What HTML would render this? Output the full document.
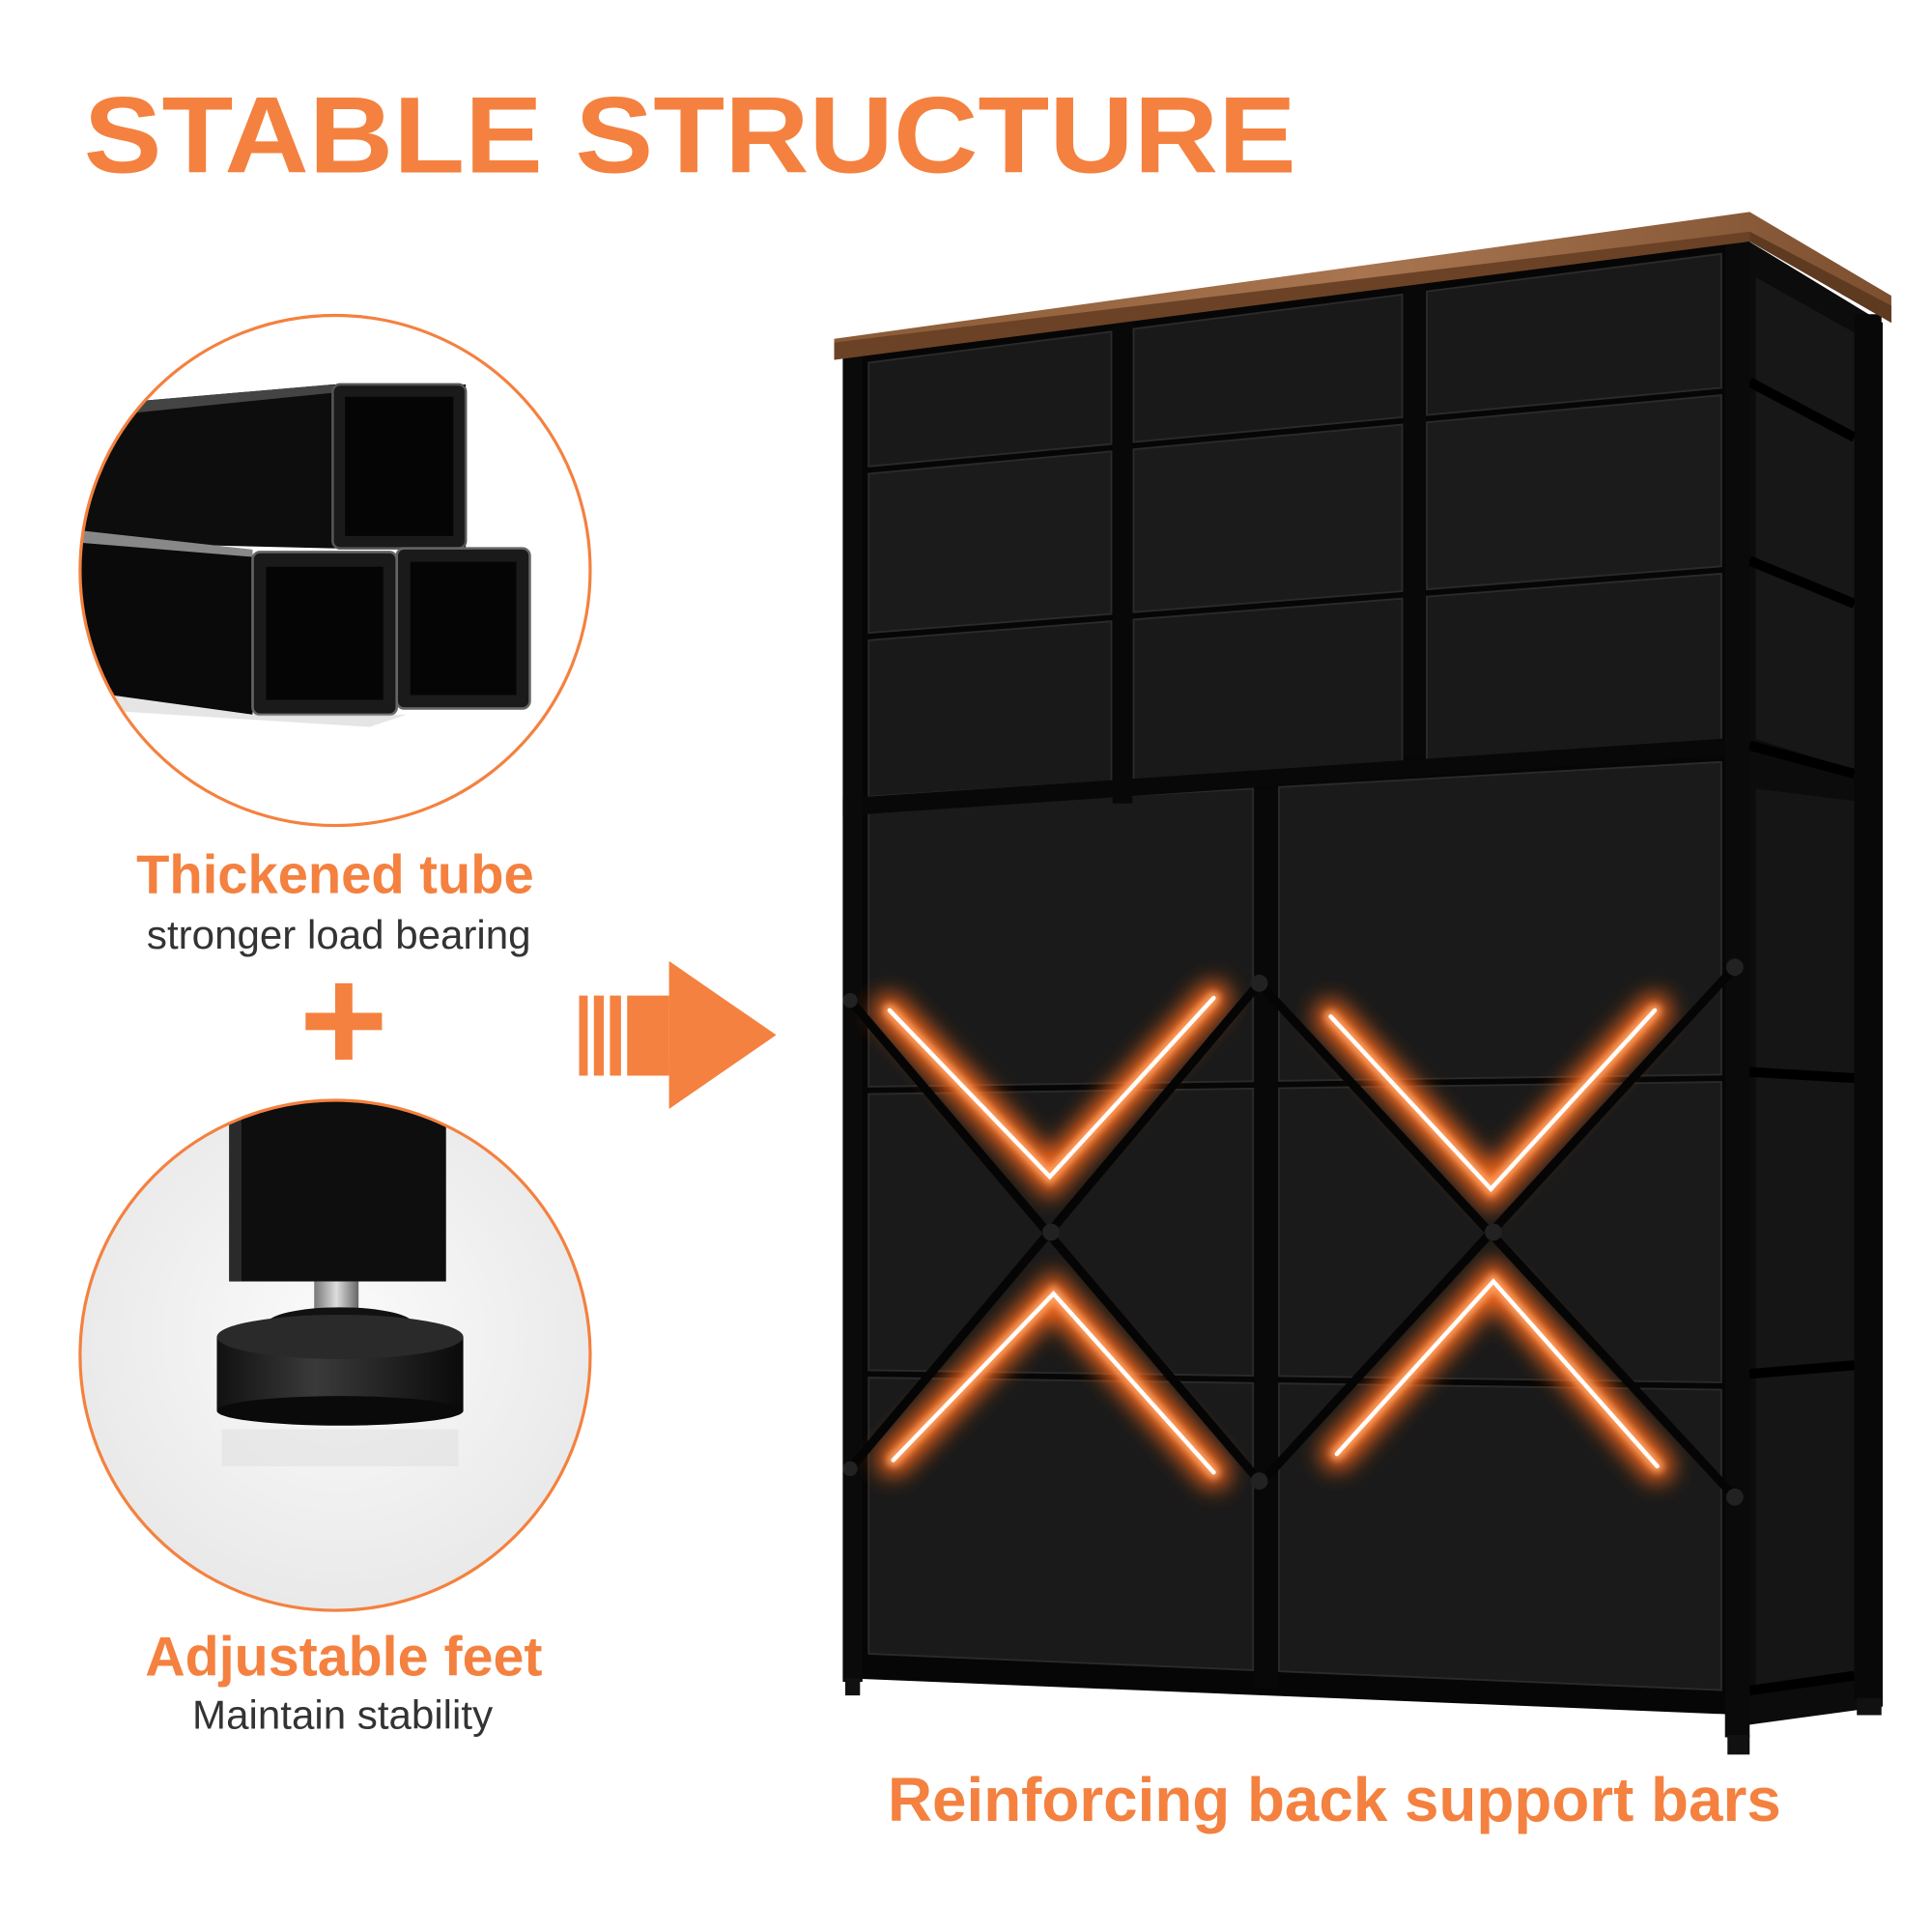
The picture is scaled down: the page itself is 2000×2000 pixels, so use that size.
<!DOCTYPE html>
<html><head><meta charset="utf-8">
<style>
html,body{margin:0;padding:0;background:#fff;}
svg{display:block;}
</style></head>
<body>
<svg id="s" width="2000" height="2000" viewBox="0 0 1568 1568" xmlns="http://www.w3.org/2000/svg" font-family="Liberation Sans, sans-serif">
<defs>
  <clipPath id="c1"><circle cx="272" cy="463" r="206"/></clipPath>
  <clipPath id="c2"><circle cx="272" cy="1100" r="206"/></clipPath>
  <radialGradient id="g2" cx="0.5" cy="0.45" r="0.6">
    <stop offset="0" stop-color="#fbfbfb"/><stop offset="1" stop-color="#e6e6e6"/>
  </radialGradient>
  <linearGradient id="wood" x1="0" x2="1">
    <stop offset="0" stop-color="#8a5a36"/><stop offset="0.5" stop-color="#a87550"/><stop offset="1" stop-color="#7d5030"/>
  </linearGradient>
  <linearGradient id="knob" x1="0" x2="1">
    <stop offset="0" stop-color="#111"/><stop offset="0.4" stop-color="#3a3a3a"/><stop offset="1" stop-color="#0a0a0a"/>
  </linearGradient>
  <linearGradient id="rod" x1="0" x2="1">
    <stop offset="0" stop-color="#777"/><stop offset="0.5" stop-color="#ddd"/><stop offset="1" stop-color="#666"/>
  </linearGradient>
  <filter id="blur" x="-20%" y="-20%" width="140%" height="140%"><feGaussianBlur stdDeviation="9"/></filter>
  <filter id="blur2" x="-20%" y="-20%" width="140%" height="140%"><feGaussianBlur stdDeviation="3"/></filter>
</defs>

<text x="68" y="140" font-size="88" font-weight="bold" fill="#F4813F" textLength="984" lengthAdjust="spacingAndGlyphs">STABLE STRUCTURE</text>

<!-- circle 1 -->
<g clip-path="url(#c1)">
  <rect x="60" y="250" width="430" height="430" fill="#fff"/>
  <polygon points="60,330 270,312 378,312 378,445 270,445 60,440" fill="#0d0d0d"/>
  <polygon points="60,330 270,312 278,318 60,340" fill="#444"/>
  <rect x="270" y="312" width="108" height="133" rx="6" fill="#1a1a1a" stroke="#555" stroke-width="2"/>
  <rect x="280" y="322" width="88" height="113" fill="#050505"/>
  <polygon points="60,440 205,448 205,580 60,560" fill="#0a0a0a"/>
  <polygon points="60,430 205,446 205,452 60,440" fill="#888"/>
  <rect x="205" y="448" width="117" height="132" rx="6" fill="#1a1a1a" stroke="#666" stroke-width="2"/>
  <rect x="216" y="460" width="95" height="108" fill="#050505"/>
  <rect x="322" y="445" width="108" height="130" rx="6" fill="#1a1a1a" stroke="#666" stroke-width="2"/>
  <rect x="333" y="456" width="86" height="108" fill="#050505"/>
  <polygon points="60,560 205,580 330,580 300,590 60,575" fill="#ccc" opacity="0.5"/>
</g>
<circle cx="272" cy="463" r="207" fill="none" stroke="#F4813F" stroke-width="2.5"/>

<text x="272" y="725" font-size="44" font-weight="bold" fill="#F4813F" text-anchor="middle">Thickened tube</text>
<text x="275" y="770" font-size="33" fill="#333" text-anchor="middle">stronger load bearing</text>
<rect x="248" y="822" width="62" height="14" fill="#F4813F"/>
<rect x="272" y="798" width="14" height="62" fill="#F4813F"/>

<!-- circle 2 -->
<g clip-path="url(#c2)">
  <rect x="60" y="890" width="430" height="430" fill="url(#g2)"/>
  <rect x="186" y="893" width="176" height="147" fill="#0e0e0e"/>
  <rect x="186" y="893" width="10" height="147" fill="#2a2a2a"/>
  <rect x="255" y="1040" width="36" height="28" fill="url(#rod)"/>
  <ellipse cx="276" cy="1075" rx="60" ry="14" fill="#111"/>
  <rect x="176" y="1085" width="200" height="60" fill="url(#knob)"/>
  <ellipse cx="276" cy="1085" rx="100" ry="18" fill="#2a2a2a"/>
  <ellipse cx="276" cy="1145" rx="100" ry="12" fill="#0a0a0a"/>
  <rect x="180" y="1160" width="192" height="30" fill="#ddd" opacity="0.5"/>
</g>
<circle cx="272" cy="1100" r="207" fill="none" stroke="#F4813F" stroke-width="2.5"/>

<text x="279" y="1360" font-size="45" font-weight="bold" fill="#F4813F" text-anchor="middle">Adjustable feet</text>
<text x="278" y="1403" font-size="33" fill="#333" text-anchor="middle">Maintain stability</text>

<!-- arrow -->
<g fill="#F4813F">
  <rect x="470" y="808" width="7" height="65"/>
  <rect x="482" y="808" width="8" height="65"/>
  <rect x="495" y="808" width="9" height="65"/>
  <rect x="509" y="808" width="34" height="65"/>
  <polygon points="543,780 630,840 543,900"/>
</g>

<!-- dresser -->
<g id="dresser">
  <polygon points="1418,195 1528,262 1528,1385 1418,1400" fill="#0c0c0c"/>
  <polygon points="1425,225 1505,270 1505,625 1425,600" fill="#171717"/>
  <polygon points="1425,640 1505,650 1505,1360 1425,1375" fill="#151515"/>
  <g stroke="#000" stroke-width="8">
    <line x1="1420" y1="310" x2="1505" y2="355"/>
    <line x1="1420" y1="455" x2="1505" y2="490"/>
    <line x1="1420" y1="605" x2="1505" y2="628"/>
    <line x1="1420" y1="870" x2="1505" y2="875"/>
    <line x1="1420" y1="1115" x2="1505" y2="1108"/>
    <line x1="1420" y1="1372" x2="1505" y2="1360"/>
  </g>
  <rect x="1505" y="255" width="22" height="1125" fill="#080808"/>
  <rect x="1507" y="1378" width="20" height="14" fill="#111"/>
  <polygon points="684,290 1420,195 1420,1392 684,1362" fill="#060606"/>
  <g id="drawers"></g>
  <rect x="684" y="285" width="16" height="1080" fill="#0a0a0a"/>
  <rect x="1400" y="195" width="20" height="1215" fill="#0a0a0a"/>
  <rect x="686" y="1362" width="12" height="14" fill="#111"/>
  <rect x="1402" y="1408" width="18" height="16" fill="#111"/>
  <polygon points="677,275 1420,172 1535,240 1535,262 1420,195 677,292" fill="url(#wood)"/>
  <polygon points="677,278 1420,188 1420,196 677,292" fill="#6b4226"/>
  <polygon points="1420,188 1535,248 1535,262 1420,196" fill="#5e3a20"/>
  <g fill="none" stroke-linecap="round" stroke-linejoin="miter">
    <g stroke="#ff6a1a" stroke-width="26" filter="url(#blur)" opacity="0.95">
      <polyline points="722,820 852,955 985,810"/>
      <polyline points="725,1185 855,1050 985,1195"/>
      <polyline points="1080,825 1210,965 1343,820"/>
      <polyline points="1085,1180 1212,1040 1345,1190"/>
    </g>
    <g stroke="#ffa060" stroke-width="10" filter="url(#blur2)">
      <polyline points="722,820 852,955 985,810"/>
      <polyline points="725,1185 855,1050 985,1195"/>
      <polyline points="1080,825 1210,965 1343,820"/>
      <polyline points="1085,1180 1212,1040 1345,1190"/>
    </g>
    <g stroke="#fff" stroke-width="3.5">
      <polyline points="722,820 852,955 985,810"/>
      <polyline points="725,1185 855,1050 985,1195"/>
      <polyline points="1080,825 1210,965 1343,820"/>
      <polyline points="1085,1180 1212,1040 1345,1190"/>
    </g>
  </g>
  <g stroke="#050505" stroke-width="7">
    <line x1="690" y1="812" x2="1022" y2="1202"/>
    <line x1="1022" y1="798" x2="690" y2="1192"/>
    <line x1="1022" y1="798" x2="1408" y2="1215"/>
    <line x1="1408" y1="785" x2="1022" y2="1205"/>
  </g>
  <g fill="#222">
    <circle cx="690" cy="812" r="6"/><circle cx="1022" cy="798" r="7"/><circle cx="1408" cy="785" r="7"/>
    <circle cx="690" cy="1192" r="6"/><circle cx="1022" cy="1202" r="7"/><circle cx="1408" cy="1215" r="7"/>
    <circle cx="853" cy="1000" r="7"/><circle cx="1212" cy="1000" r="7"/>
  </g>
</g>

<text x="1083" y="1478" font-size="50" font-weight="bold" fill="#F4813F" text-anchor="middle">Reinforcing back support bars</text>

<script>
(function(){
  var g=document.getElementById('drawers'),ns='http://www.w3.org/2000/svg';
  function Y(x,L,R){return L+(R-L)*(x-700)/705;}
  function quad(x1,x2,a,b,fill){
    var p=document.createElementNS(ns,'polygon');
    p.setAttribute('points',[x1,Y(x1,a[0],a[1]),x2,Y(x2,a[0],a[1]),x2,Y(x2,b[0],b[1]),x1,Y(x1,b[0],b[1])].join(' '));
    p.setAttribute('fill',fill);p.setAttribute('stroke','#2a2a2a');p.setAttribute('stroke-width','1.5');
    g.appendChild(p);
  }
  var topRows=[[292,202],[382,317],[517,462],[650,605]];
  var topCols=[[705,902],[920,1138],[1158,1397]];
  for(var r=0;r<3;r++)for(var c=0;c<3;c++){
    var a=[topRows[r][0]+3,topRows[r][1]+3],b=[topRows[r+1][0]-3,topRows[r+1][1]-3];
    quad(topCols[c][0],topCols[c][1],a,b,r%2?'#1b1b1b':'#191919');
  }
  var botRows=[[655,615],[885,875],[1115,1125],[1345,1375]];
  var botCols=[[705,1017],[1038,1397]];
  for(var r=0;r<3;r++)for(var c=0;c<2;c++){
    var a=[botRows[r][0]+3,botRows[r][1]+3],b=[botRows[r+1][0]-3,botRows[r+1][1]-3];
    quad(botCols[c][0],botCols[c][1],a,b,'#1a1a1a');
  }
  function rect(x,y,w,h){var e=document.createElementNS(ns,'rect');e.setAttribute('x',x);e.setAttribute('y',y);e.setAttribute('width',w);e.setAttribute('height',h);e.setAttribute('fill','#080808');g.appendChild(e);}
  rect(903,262,16,390);rect(1139,230,18,385);rect(1018,640,19,730);
  var l=document.createElementNS(ns,'polygon');
  l.setAttribute('points','684,648 1420,598 1420,612 684,662');l.setAttribute('fill','#080808');g.appendChild(l);
})();
</script>
</svg>
</body></html>
